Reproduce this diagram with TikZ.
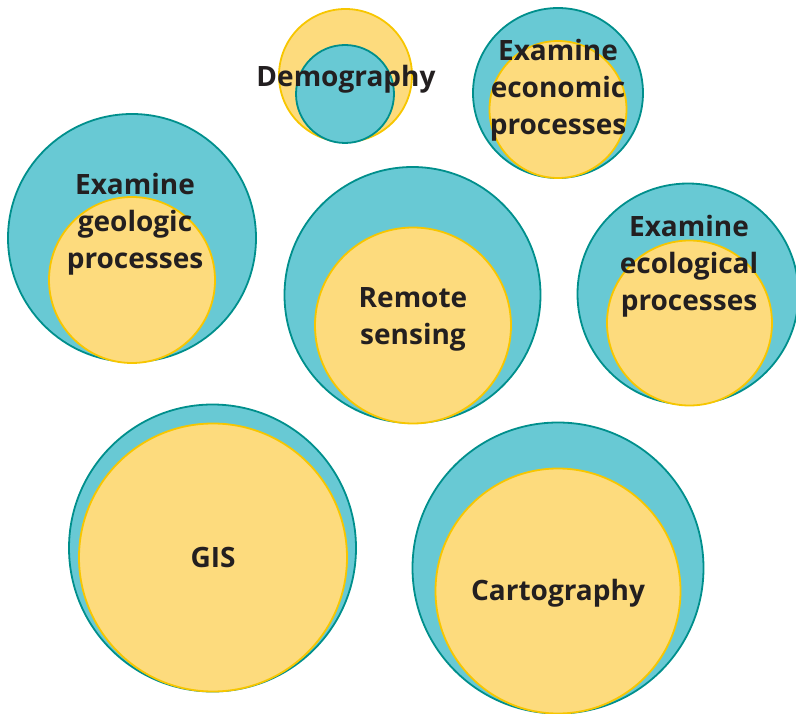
\documentclass[tikz,border=0pt]{standalone}
\usepackage{fontspec}
\setmainfont{Open Sans}
\definecolor{tealfill}{HTML}{68C9D4}
\definecolor{tealline}{HTML}{008F8C}
\definecolor{yelfill}{HTML}{FDDB7D}
\definecolor{yelline}{HTML}{F7C600}
\definecolor{txt}{HTML}{231F20}
\tikzset{
  tealc/.style={circle, inner sep=0pt, fill=tealfill, draw=tealline, line width=1.8pt, minimum size=#1},
  yelc/.style={circle, inner sep=0pt, fill=yelfill, draw=yelline, line width=1.8pt, minimum size=#1},
  lbl/.style={align=center, text=txt, font=\fontsize{28}{37}\selectfont\bfseries, inner sep=0pt}
}
\begin{document}
\begin{tikzpicture}[x=1pt,y=-1pt]
\useasboundingbox (0,0) rectangle (796,714);
% Demography
\node[yelc=133pt] (demoO) at (345.5,75.5) {};
\node[tealc=98pt] (demoI) at (345,94) {};
\node[lbl] (demoT) at (346,79) {Demography};
% Economic
\node[tealc=170pt] (econO) at (558,93) {};
\node[yelc=137pt] (econI) at (558,109.5) {};
\node[lbl] (econT) at (558,90) {Examine\\economic\\processes};
% Geologic
\node[tealc=248pt] (geoO) at (132,238) {};
\node[yelc=166pt] (geoI) at (132,280) {};
\node[lbl] (geoT) at (135,224) {Examine\\geologic\\processes};
% Remote sensing
\node[tealc=256pt] (remO) at (412.5,295) {};
\node[yelc=196pt] (remI) at (413,325.5) {};
\node[lbl] (remT) at (413,319) {Remote\\sensing};
% Ecological
\node[tealc=221pt] (ecoO) at (688,294) {};
\node[yelc=165pt] (ecoI) at (689.5,323) {};
\node[lbl] (ecoT) at (689,266) {Examine\\ecological\\processes};
% GIS
\node[tealc=287pt] (gisO) at (212.5,548) {};
\node[yelc=268pt] (gisI) at (213,557.5) {};
\node[lbl] (gisT) at (213,557) {GIS};
% Cartography
\node[tealc=291pt] (carO) at (558,568) {};
\node[yelc=245pt] (carI) at (558,591) {};
\node[lbl] (carT) at (558,593) {Cartography};
\end{tikzpicture}
\end{document}
